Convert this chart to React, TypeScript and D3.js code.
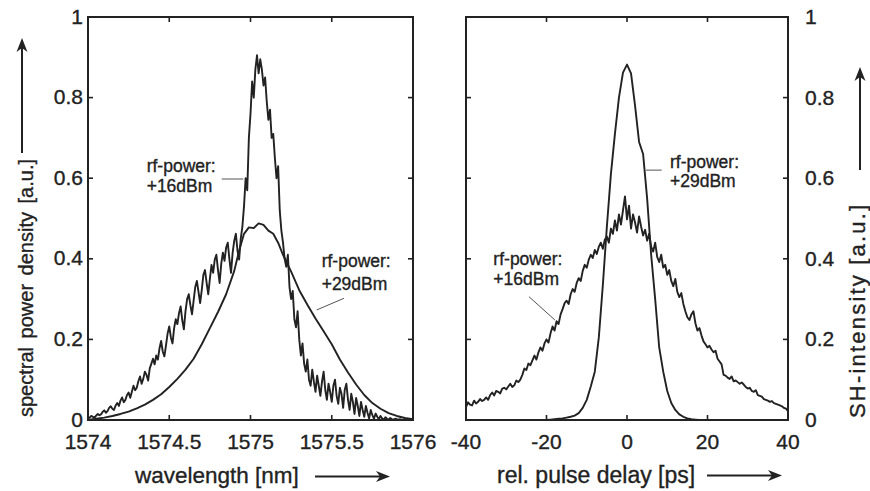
import React from 'react';
import * as d3 from 'd3';

const W = 870;
const H = 491;

// ---------- tick values / labels ----------
const WL_TICKS = [1574, 1574.5, 1575, 1575.5, 1576];
const WL_TICK_LABELS = ['1574', '1574.5', '1575', '1575.5', '1576'];
const Y_TICKS = [0, 0.2, 0.4, 0.6, 0.8, 1];
const Y_TICK_LABELS = ['0', '0.2', '0.4', '0.6', '0.8', '1'];
const DELAY_TICKS = [-40, -20, 0, 20, 40];
const DELAY_TICK_LABELS = ['-40', '-20', '0', '20', '40'];

// ---------- left panel: spectra ----------
// rf-power +29dBm (smooth)
const WL29_X = [
  1574.0, 1574.05, 1574.1, 1574.15, 1574.2, 1574.25, 1574.3, 1574.35, 1574.4, 1574.45,
  1574.5, 1574.55, 1574.6, 1574.65, 1574.7, 1574.75, 1574.8, 1574.85, 1574.9,
  1574.93, 1574.96, 1574.99, 1575.02, 1575.05, 1575.08, 1575.11, 1575.14, 1575.17,
  1575.2, 1575.25, 1575.3, 1575.35, 1575.4, 1575.45, 1575.5, 1575.55, 1575.6, 1575.65,
  1575.7, 1575.75, 1575.8, 1575.85, 1575.9, 1575.95, 1576.0,
];
const WL29_Y = [
  0.0, 0.003, 0.006, 0.01, 0.015, 0.021, 0.029, 0.038, 0.05, 0.064,
  0.082, 0.102, 0.125, 0.152, 0.188, 0.228, 0.268, 0.312, 0.37,
  0.42, 0.462, 0.478, 0.476, 0.488, 0.484, 0.47, 0.462, 0.44,
  0.41, 0.368, 0.322, 0.286, 0.252, 0.22, 0.188, 0.15, 0.118, 0.088,
  0.062, 0.042, 0.028, 0.017, 0.01, 0.005, 0.002,
];
// rf-power +16dBm (noisy), sampled every 0.01 nm from 1574.00
const WL16_START = 1574.0;
const WL16_STEP = 0.01;
const WL16_Y = [
  0.004, 0.006, 0.010, 0.008, 0.006, 0.011, 0.015, 0.012, 0.014, 0.020,
  0.024, 0.018, 0.022, 0.030, 0.034, 0.028, 0.025, 0.036, 0.042, 0.035,
  0.048, 0.056, 0.044, 0.050, 0.062, 0.068, 0.055, 0.070, 0.085, 0.074,
  0.080, 0.096, 0.108, 0.090, 0.102, 0.120, 0.112, 0.098, 0.128, 0.140,
  0.152, 0.138, 0.160, 0.150, 0.178, 0.196, 0.170, 0.158, 0.185, 0.215,
  0.232, 0.205, 0.190, 0.228, 0.250, 0.238, 0.265, 0.282, 0.248, 0.225,
  0.270, 0.300, 0.312, 0.285, 0.262, 0.296, 0.330, 0.345, 0.318, 0.290,
  0.322, 0.360, 0.372, 0.340, 0.312, 0.350, 0.385, 0.365, 0.398, 0.410,
  0.372, 0.340, 0.388, 0.415, 0.395, 0.428, 0.440, 0.400, 0.365, 0.415,
  0.445, 0.462, 0.420, 0.398, 0.450, 0.480, 0.530, 0.600, 0.570, 0.700,
  0.760, 0.840, 0.800, 0.870, 0.905, 0.860, 0.895, 0.870, 0.830, 0.850,
  0.790, 0.745, 0.770, 0.700, 0.710, 0.650, 0.600, 0.630, 0.520, 0.470,
  0.440, 0.400, 0.380, 0.410, 0.330, 0.300, 0.320, 0.250, 0.230, 0.270,
  0.200, 0.160, 0.190, 0.140, 0.120, 0.150, 0.100, 0.085, 0.125, 0.095,
  0.070, 0.110, 0.085, 0.060, 0.095, 0.120, 0.075, 0.050, 0.090, 0.070,
  0.045, 0.085, 0.100, 0.060, 0.040, 0.080, 0.065, 0.030, 0.075, 0.090,
  0.050, 0.025, 0.065, 0.045, 0.015, 0.055, 0.035, 0.010, 0.045, 0.025,
  0.008, 0.035, 0.018, 0.004, 0.025, 0.012, 0.003, 0.016, 0.008, 0.002,
  0.010, 0.004, 0.001, 0.007, 0.003, 0.001, 0.005, 0.002, 0.001, 0.003,
  0.002, 0.001, 0.002, 0.000, 0.001, 0.001, 0.000, 0.001, 0.000, 0.000, 0.000,
];

// ---------- right panel: autocorrelation ----------
// rf-power +29dBm (smooth), every 1 ps from -40
const D29_START = -40;
const D29_STEP = 1;
const D29_Y = [
  0, 0, 0, 0, 0, 0, 0, 0, 0, 0, 0, 0, 0, 0, 0, 0, 0, 0, 0, 0, 0,
  0.001, 0.002, 0.003, 0.004, 0.006, 0.008, 0.011, 0.017, 0.03, 0.05,
  0.083, 0.12, 0.205, 0.335, 0.48, 0.61, 0.71, 0.8, 0.862, 0.882,
  0.86, 0.78, 0.69, 0.66, 0.55, 0.41, 0.3, 0.18, 0.12, 0.072,
  0.042, 0.025, 0.014, 0.008, 0.004, 0.002, 0.001,
  0, 0, 0, 0, 0, 0, 0, 0, 0, 0, 0, 0, 0, 0, 0, 0, 0, 0, 0, 0, 0, 0, 0,
];
// rf-power +16dBm (noisy), every 0.5 ps from -40
const D16_START = -40;
const D16_STEP = 0.5;
const D16_Y = [
  0.032, 0.044, 0.038, 0.036, 0.048, 0.041, 0.045, 0.052, 0.047, 0.050,
  0.056, 0.050, 0.062, 0.068, 0.061, 0.072, 0.070, 0.066, 0.078, 0.080,
  0.076, 0.083, 0.090, 0.082, 0.086, 0.098, 0.094, 0.100, 0.112, 0.128,
  0.124, 0.140, 0.136, 0.148, 0.160, 0.150, 0.168, 0.180, 0.172, 0.190,
  0.200, 0.192, 0.215, 0.232, 0.222, 0.245, 0.238, 0.262, 0.275, 0.290,
  0.296, 0.288, 0.312, 0.325, 0.318, 0.340, 0.352, 0.345, 0.370, 0.385,
  0.378, 0.398, 0.410, 0.402, 0.422, 0.412, 0.430, 0.440, 0.425, 0.448,
  0.455, 0.440, 0.475, 0.462, 0.495, 0.470, 0.510, 0.485, 0.520, 0.555,
  0.498, 0.532, 0.475, 0.510, 0.490, 0.465, 0.505, 0.480, 0.458, 0.472,
  0.445, 0.462, 0.430, 0.418, 0.440, 0.405, 0.392, 0.410, 0.378, 0.385,
  0.360, 0.372, 0.345, 0.332, 0.350, 0.318, 0.305, 0.315, 0.288, 0.270,
  0.255, 0.248, 0.262, 0.270, 0.240, 0.222, 0.228, 0.210, 0.195, 0.188,
  0.180, 0.184, 0.175, 0.168, 0.172, 0.152, 0.145, 0.138, 0.112, 0.110,
  0.105, 0.102, 0.108, 0.096, 0.098, 0.094, 0.090, 0.093, 0.088, 0.082,
  0.078, 0.080, 0.072, 0.070, 0.074, 0.062, 0.060, 0.058, 0.052, 0.050,
  0.048, 0.045, 0.047, 0.042, 0.040, 0.038, 0.036, 0.034, 0.030, 0.028,
  0.022,
];

// ---------- annotations (data coordinates) ----------
const LEFT_NOTES = [
  { lines: ['rf-power:', '+16dBm'], x: 1574.361, y: 0.616, y2: 0.566, lx1: 1574.823, ly1: 0.598, lx2: 1574.956, ly2: 0.598 },
  { lines: ['rf-power:', '+29dBm'], x: 1575.438, y: 0.38, y2: 0.323, lx1: 1575.575, ly1: 0.302, lx2: 1575.407, ly2: 0.273 },
];
const RIGHT_NOTES = [
  { lines: ['rf-power:', '+29dBm'], x: 10.68, y: 0.625, y2: 0.579, lx1: 8.62, ly1: 0.62, lx2: 4.72, ly2: 0.62 },
  { lines: ['rf-power:', '+16dBm'], x: -33.2, y: 0.385, y2: 0.335, lx1: -24.35, ly1: 0.306, lx2: -17.9, ly2: 0.248 },
];

const INK = '#222';
const FONT = '"Liberation Sans", Arial, Helvetica, sans-serif';

const TOP = 17;
const BOTTOM = 420;

const xL = d3.scaleLinear().domain([1574, 1576]).range([88, 413]);
const xR = d3.scaleLinear().domain([-40, 40]).range([466, 788]);
const y = d3.scaleLinear().domain([0, 1]).range([BOTTOM, TOP]);

function series(start: number, step: number, vals: number[]): [number, number][] {
  return vals.map((v, i) => [start + i * step, v]);
}

function Frame({ x }: { x: d3.ScaleLinear<number, number> }) {
  const [x0, x1] = x.range();
  return (
    <rect x={x0} y={TOP} width={x1 - x0} height={BOTTOM - TOP} fill="none" stroke={INK} strokeWidth={2} />
  );
}

function Ticks({ x, xt }: { x: d3.ScaleLinear<number, number>; xt: number[] }) {
  const [x0, x1] = x.range();
  const len = 5;
  return (
    <g stroke={INK} strokeWidth={1.6}>
      {xt.map((t) => (
        <g key={'x' + t}>
          <line x1={x(t)} x2={x(t)} y1={BOTTOM} y2={BOTTOM - len} />
          <line x1={x(t)} x2={x(t)} y1={TOP} y2={TOP + len} />
        </g>
      ))}
      {Y_TICKS.map((t) => (
        <g key={'y' + t}>
          <line x1={x0} x2={x0 + len} y1={y(t)} y2={y(t)} />
          <line x1={x1} x2={x1 - len} y1={y(t)} y2={y(t)} />
        </g>
      ))}
    </g>
  );
}

function HArrow({ x1, x2, yy }: { x1: number; x2: number; yy: number }) {
  return (
    <g>
      <line x1={x1} x2={x2 - 8} y1={yy} y2={yy} stroke={INK} strokeWidth={2} />
      <path d={`M${x2},${yy} L${x2 - 14},${yy - 5.5} L${x2 - 10},${yy} L${x2 - 14},${yy + 5.5} Z`} fill={INK} />
    </g>
  );
}

function VArrow({ xx, y1, y2 }: { xx: number; y1: number; y2: number }) {
  return (
    <g>
      <line x1={xx} x2={xx} y1={y1} y2={y2 + 8} stroke={INK} strokeWidth={2} />
      <path d={`M${xx},${y2} L${xx - 5.5},${y2 + 14} L${xx},${y2 + 10} L${xx + 5.5},${y2 + 14} Z`} fill={INK} />
    </g>
  );
}

const TXT = { fill: INK, stroke: INK, strokeWidth: 0.35 };

function Notes({ x, notes }: { x: d3.ScaleLinear<number, number>; notes: typeof LEFT_NOTES }) {
  return (
    <g>
      {notes.map((n, i) => (
        <g key={i}>
          <text x={x(n.x)} y={y(n.y)} fontSize={17.5} {...TXT}>{n.lines[0]}</text>
          <text x={x(n.x)} y={y(n.y2)} fontSize={17.5} {...TXT}>{n.lines[1]}</text>
          <line x1={x(n.lx1)} y1={y(n.ly1)} x2={x(n.lx2)} y2={y(n.ly2)} stroke="#555" strokeWidth={1} />
        </g>
      ))}
    </g>
  );
}

export default function App() {
  const lineL = d3.line<[number, number]>().x((d) => xL(d[0])).y((d) => y(d[1]));
  const lineR = d3.line<[number, number]>().x((d) => xR(d[0])).y((d) => y(d[1]));

  const wl29 = WL29_X.map((x, i) => [x, WL29_Y[i]] as [number, number]);
  const wl16 = series(WL16_START, WL16_STEP, WL16_Y);
  const d29 = series(D29_START, D29_STEP, D29_Y);
  const d16 = series(D16_START, D16_STEP, D16_Y);

  return (
    <svg
      width={W}
      height={H}
      viewBox={`0 0 ${W} ${H}`}
      style={{ position: 'absolute', left: 0, top: 0, background: '#fff' }}
      fontFamily={FONT}
    >
      <rect x={0} y={0} width={W} height={H} fill="#fff" />

      {/* Left panel curves */}
      <path d={lineL(wl29) || ''} fill="none" stroke={INK} strokeWidth={1.9} strokeLinejoin="round" />
      <path d={lineL(wl16) || ''} fill="none" stroke={INK} strokeWidth={1.9} strokeLinejoin="round" />

      {/* Right panel curves */}
      <path d={lineR(d29) || ''} fill="none" stroke={INK} strokeWidth={1.9} strokeLinejoin="round" />
      <path d={lineR(d16) || ''} fill="none" stroke={INK} strokeWidth={1.9} strokeLinejoin="round" />

      <Frame x={xL} />
      <Frame x={xR} />
      <Ticks x={xL} xt={WL_TICKS} />
      <Ticks x={xR} xt={DELAY_TICKS} />

      {/* tick labels */}
      <g fontSize={21} {...TXT}>
        {WL_TICKS.map((t, i) => (
          <text key={'lx' + t} x={xL(t)} y={449} textAnchor="middle">{WL_TICK_LABELS[i]}</text>
        ))}
        {DELAY_TICKS.map((t, i) => (
          <text key={'rx' + t} x={xR(t)} y={449} textAnchor="middle">{DELAY_TICK_LABELS[i]}</text>
        ))}
        {Y_TICKS.map((t, i) => (
          <text key={'ly' + t} x={83} y={y(t) + 6.5} textAnchor="end">{Y_TICK_LABELS[i]}</text>
        ))}
        {Y_TICKS.map((t, i) => (
          <text key={'ry' + t} x={805} y={y(t) + 7} textAnchor="start">{Y_TICK_LABELS[i]}</text>
        ))}
      </g>

      {/* axis titles */}
      <text x={135} y={483} fontSize={22.5} {...TXT}>wavelength [nm]</text>
      <HArrow x1={315} x2={390} yy={476.5} />
      <text x={497} y={483} fontSize={23} {...TXT}>rel. pulse delay [ps]</text>
      <HArrow x1={707} x2={782} yy={475.5} />

      <text transform="translate(33,417) rotate(-90)" fontSize={20} wordSpacing={3} {...TXT}>
        spectral power density [a.u.]
      </text>
      <VArrow xx={22} y1={153} y2={38} />

      <text transform="translate(865,418) rotate(-90)" fontSize={22} letterSpacing={2.2} {...TXT}>
        SH-intensity [a.u.]
      </text>
      <VArrow xx={860} y1={170} y2={67} />

      <Notes x={xL} notes={LEFT_NOTES} />
      <Notes x={xR} notes={RIGHT_NOTES} />
    </svg>
  );
}
